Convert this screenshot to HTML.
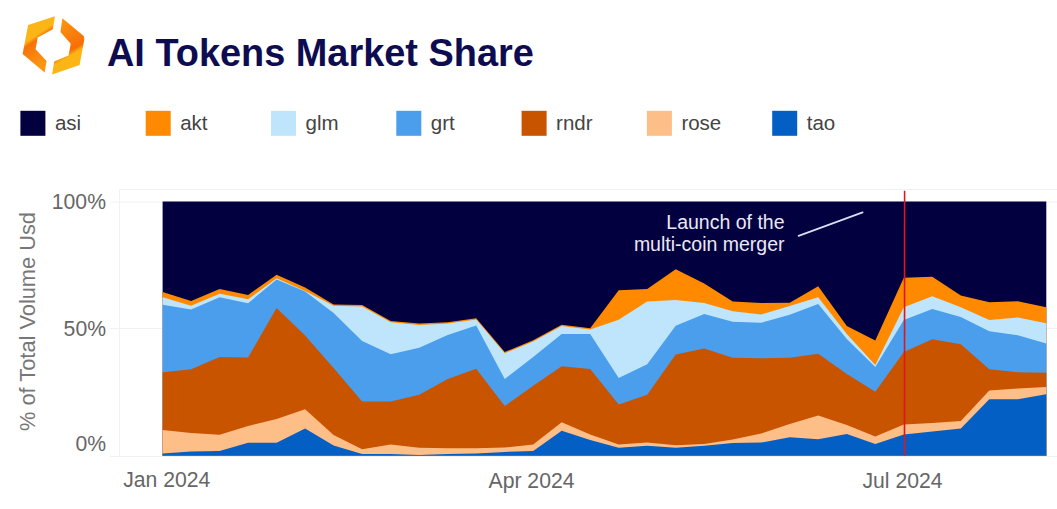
<!DOCTYPE html>
<html><head><meta charset="utf-8">
<style>
html,body{margin:0;padding:0;background:#fff;}
body{width:1057px;height:509px;overflow:hidden;}
svg{display:block;font-family:"Liberation Sans", sans-serif;}
</style></head>
<body>
<svg width="1057" height="509" viewBox="0 0 1057 509">
<defs>
<linearGradient id="gl" gradientUnits="userSpaceOnUse" x1="25" y1="32" x2="45" y2="62">
<stop offset="0" stop-color="#FBB514"/><stop offset="0.25" stop-color="#FBB514"/><stop offset="0.36" stop-color="#F7720A"/><stop offset="1" stop-color="#FB9612"/>
</linearGradient>
<linearGradient id="gr" gradientUnits="userSpaceOnUse" x1="62" y1="20" x2="84" y2="58">
<stop offset="0" stop-color="#FB960F"/><stop offset="0.7" stop-color="#F76E08"/><stop offset="0.8" stop-color="#FBB514"/><stop offset="1" stop-color="#FBB514"/>
</linearGradient>
</defs>
<polygon points="54.9,16.2 28.1,25.1 22.6,54 44.6,72.5 46.6,60.9 35.6,49.2 37.7,37.5 52.8,29.2" fill="url(#gl)"/>
<polygon points="62.4,18.2 83.7,36.1 84.4,38.9 79.6,65 52.1,74.6 54.2,61.5 68.6,55.4 70.7,43.7 60.4,32" fill="url(#gr)"/>
<text x="107" y="65.9" font-size="37.9" font-weight="bold" fill="#0E0C50">AI Tokens Market Share</text>
<rect x="20.4" y="110.8" width="25" height="25" fill="#02003F"/>
<text x="54.9" y="130.4" font-size="20.5" fill="#444">asi</text>
<rect x="145.7" y="110.8" width="25" height="25" fill="#FF8A00"/>
<text x="180.2" y="130.4" font-size="20.5" fill="#444">akt</text>
<rect x="271.0" y="110.8" width="25" height="25" fill="#BFE5FC"/>
<text x="305.5" y="130.4" font-size="20.5" fill="#444">glm</text>
<rect x="396.3" y="110.8" width="25" height="25" fill="#4A9EEB"/>
<text x="430.8" y="130.4" font-size="20.5" fill="#444">grt</text>
<rect x="521.6" y="110.8" width="25" height="25" fill="#C95400"/>
<text x="556.1" y="130.4" font-size="20.5" fill="#444">rndr</text>
<rect x="646.9" y="110.8" width="25" height="25" fill="#FEBE88"/>
<text x="681.4" y="130.4" font-size="20.5" fill="#444">rose</text>
<rect x="772.2" y="110.8" width="25" height="25" fill="#035FC3"/>
<text x="806.7" y="130.4" font-size="20.5" fill="#444">tao</text>
<g stroke="#F1F1F1" stroke-width="1" fill="none">
<line x1="119.5" y1="189.5" x2="1057" y2="189.5"/>
<line x1="110" y1="202" x2="1057" y2="202"/>
<line x1="110" y1="328.5" x2="1057" y2="328.5"/>
<line x1="110" y1="456.5" x2="1057" y2="456.5"/>
<line x1="119.5" y1="189.5" x2="119.5" y2="457"/>
</g>
<rect x="162.6" y="201.5" width="883.7" height="254.3" fill="#02003F"/>
<polygon points="162.6,455.8 162.6,292.0 191.1,300.9 219.6,289.0 248.1,295.0 276.6,274.7 305.1,287.5 333.6,304.4 362.1,305.1 390.7,320.9 419.2,323.6 447.7,322.2 476.2,318.3 504.7,352.0 533.2,340.3 561.7,324.7 590.2,328.2 618.7,290.3 647.2,288.9 675.7,269.3 704.2,283.4 732.7,301.5 761.2,303.0 789.7,302.7 818.2,286.3 846.8,326.0 875.3,340.5 903.8,277.7 932.3,276.7 960.8,295.4 989.3,302.2 1017.8,301.3 1046.3,307.2 1046.3,455.8" fill="#FF8A00"/>
<polygon points="162.6,455.8 162.6,297.3 191.1,305.8 219.6,293.8 248.1,299.3 276.6,278.3 305.1,291.0 333.6,305.7 362.1,306.4 390.7,322.2 419.2,324.9 447.7,323.5 476.2,319.6 504.7,353.3 533.2,341.6 561.7,326.0 590.2,329.5 618.7,319.7 647.2,301.5 675.7,300.1 704.2,303.0 732.7,311.3 761.2,314.4 789.7,306.0 818.2,297.2 846.8,334.0 875.3,365.0 903.8,307.2 932.3,296.3 960.8,307.2 989.3,319.9 1017.8,317.6 1046.3,323.3 1046.3,455.8" fill="#BFE5FC"/>
<polygon points="162.6,455.8 162.6,304.8 191.1,309.5 219.6,297.3 248.1,303.2 276.6,279.6 305.1,291.6 333.6,313.0 362.1,340.9 390.7,354.3 419.2,347.8 447.7,335.0 476.2,325.6 504.7,379.0 533.2,357.0 561.7,334.0 590.2,334.0 618.7,378.0 647.2,364.2 675.7,325.8 704.2,313.9 732.7,321.7 761.2,322.7 789.7,314.8 818.2,304.0 846.8,339.0 875.3,367.0 903.8,319.9 932.3,309.1 960.8,317.0 989.3,331.3 1017.8,335.3 1046.3,343.6 1046.3,455.8" fill="#4A9EEB"/>
<polygon points="162.6,455.8 162.6,372.3 191.1,369.2 219.6,357.0 248.1,357.4 276.6,308.0 305.1,335.4 333.6,368.0 362.1,401.5 390.7,401.5 419.2,394.8 447.7,379.1 476.2,368.7 504.7,406.0 533.2,385.8 561.7,366.2 590.2,369.1 618.7,404.4 647.2,394.7 675.7,354.4 704.2,348.5 732.7,357.7 761.2,358.3 789.7,357.7 818.2,353.8 846.8,374.0 875.3,391.8 903.8,352.0 932.3,339.2 960.8,344.3 989.3,369.3 1017.8,372.2 1046.3,372.8 1046.3,455.8" fill="#C95400"/>
<polygon points="162.6,455.8 162.6,429.9 191.1,432.9 219.6,434.8 248.1,426.0 276.6,419.1 305.1,409.3 333.6,435.0 362.1,449.2 390.7,444.5 419.2,447.7 447.7,448.2 476.2,448.2 504.7,447.5 533.2,444.5 561.7,422.2 590.2,434.5 618.7,444.5 647.2,442.6 675.7,445.3 704.2,443.9 732.7,439.6 761.2,433.5 789.7,424.1 818.2,415.5 846.8,425.0 875.3,436.4 903.8,424.6 932.3,422.9 960.8,421.0 989.3,390.4 1017.8,388.5 1046.3,387.0 1046.3,455.8" fill="#FEBE88"/>
<polygon points="162.6,455.8 162.6,453.5 191.1,451.5 219.6,451.0 248.1,442.7 276.6,442.7 305.1,428.5 333.6,445.5 362.1,453.9 390.7,453.9 419.2,454.9 447.7,454.0 476.2,453.4 504.7,452.0 533.2,450.9 561.7,430.7 590.2,440.1 618.7,447.7 647.2,445.8 675.7,447.7 704.2,445.8 732.7,443.0 761.2,442.6 789.7,437.3 818.2,439.2 846.8,433.9 875.3,443.9 903.8,434.5 932.3,431.6 960.8,428.5 989.3,399.3 1017.8,399.3 1046.3,394.2 1046.3,455.8" fill="#035FC3"/>
<line x1="904.6" y1="190.8" x2="904.5" y2="455.8" stroke="#E0161E" stroke-width="1.6"/>
<line x1="798.6" y1="235.8" x2="862.6" y2="212.4" stroke="#DCDCF2" stroke-width="1.8" stroke-linecap="round"/>
<text x="784.5" y="229" font-size="19.5" fill="#E9E9F5" text-anchor="end">Launch of the</text>
<text x="784.5" y="251.2" font-size="19.5" fill="#E9E9F5" text-anchor="end">multi-coin merger</text>
<g font-size="21.2" fill="#666" text-anchor="end">
<text x="106" y="209.2">100%</text>
<text x="106" y="336">50%</text>
<text x="106" y="451.2">0%</text>
</g>
<g font-size="21.2" fill="#666" text-anchor="middle">
<text x="166.8" y="487.4">Jan 2024</text>
<text x="531.5" y="488">Apr 2024</text>
<text x="902.5" y="488">Jul 2024</text>
</g>
<text transform="translate(34.6,321.5) rotate(-90)" font-size="21.8" fill="#777" text-anchor="middle">% of Total Volume Usd</text>
</svg>
</body></html>
